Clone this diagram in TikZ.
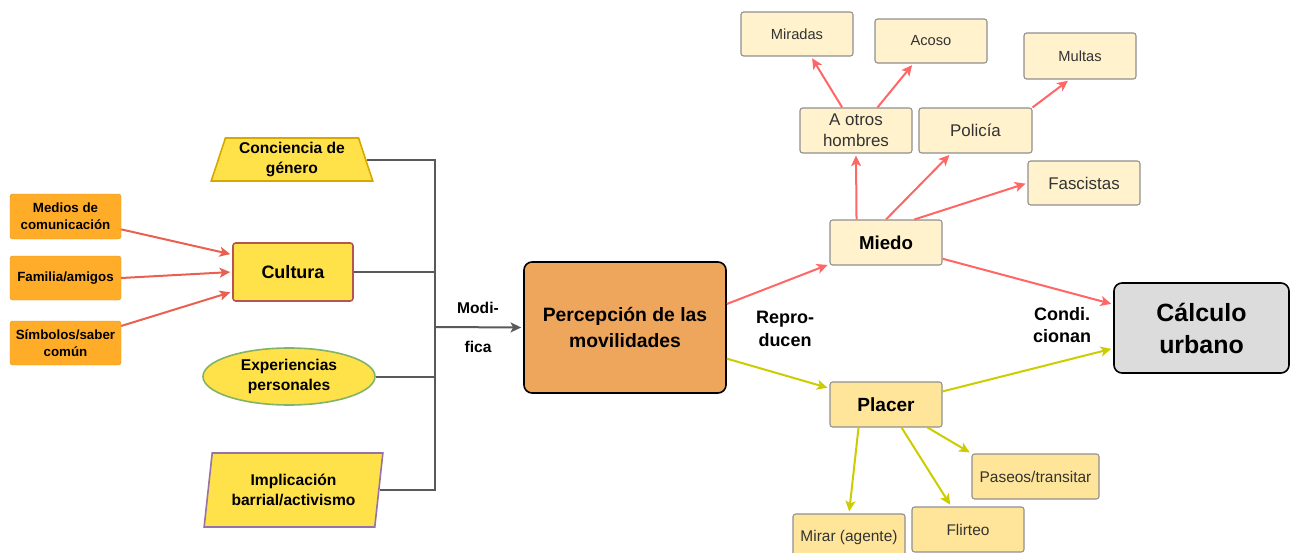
\documentclass[tikz,border=0pt]{standalone}
\usepackage{fontspec}
\setmainfont{Liberation Sans}
\usetikzlibrary{shapes.geometric,arrows.meta}
\definecolor{orng}{HTML}{FFAD29}
\definecolor{yel}{HTML}{FFE14A}
\definecolor{culb}{HTML}{B85450}
\definecolor{conb}{HTML}{D6A800}
\definecolor{expb}{HTML}{82B366}
\definecolor{impb}{HTML}{9673A6}
\definecolor{perf}{HTML}{EEA55C}
\definecolor{cream}{HTML}{FFF2CC}
\definecolor{plac}{HTML}{FFE599}
\definecolor{calf}{HTML}{DCDCDC}
\definecolor{creamb}{HTML}{8F8F8F}
\definecolor{redl}{HTML}{EA6050}
\definecolor{redr}{HTML}{FF6666}
\definecolor{ygl}{HTML}{CCCC00}
\definecolor{busc}{HTML}{595959}
\definecolor{txt}{HTML}{333333}
\begin{document}
\begin{tikzpicture}[x=0.75pt,y=-0.75pt,
  sz/.style 2 args={minimum width=#1*0.75pt,minimum height=#2*0.75pt,inner sep=0pt},
  obox/.style={rectangle,rounded corners=2pt,fill=orng,draw=orng!85!black,line width=0.3pt,align=center,font=\bfseries\fontsize{10}{12.5}\selectfont},
  ybox/.style={fill=yel,line width=1.2pt,align=center,font=\bfseries\fontsize{11.7}{15}\selectfont},
  cbox/.style={rectangle,rounded corners=2pt,fill=cream,draw=creamb,line width=0.8pt,align=center,text=txt},
  bus/.style={draw=busc,line width=1.5pt},
  arr/.style={line width=1.5pt,shorten >=1.5pt,-{Stealth[length=8pt,width=7.5pt,inset=2pt]}},
  lbl/.style={align=center,font=\bfseries\fontsize{13.5}{17}\selectfont}
]
\useasboundingbox (0,0) rectangle (1290,553);
\clip (0,0) rectangle (1290,553);

% left inputs
\node[obox,sz={111}{45}] (med) at (65.5,216.5) {Medios de\\comunicación};
\node[obox,sz={111}{44}] (fam) at (65.5,278) {Familia/amigos};
\node[obox,sz={111}{44}] (sim) at (65.5,343) {Símbolos/saber\\común};

% yellow nodes
\node[ybox,draw=conb,trapezium,trapezium left angle=72,trapezium right angle=72,trapezium stretches=true,sz={163}{43}] (con) at (292,159.5) {Conciencia de\\género};
\node[ybox,draw=culb,rectangle,rounded corners=2pt,sz={120}{58},font=\bfseries\fontsize{13.5}{16}\selectfont] (cul) at (293,272) {Cultura};
\node[ybox,draw=expb,ellipse,sz={172}{57}] (exp) at (289,376.5) {Experiencias\\personales};
\node[ybox,draw=impb,trapezium,trapezium left angle=79,trapezium right angle=101,trapezium stretches=true,sz={179}{74}] (imp) at (293.5,490) {Implicación\\barrial/activismo};

% bus
\coordinate (bm) at (435,327);
\draw[bus] (con.east) -| (bm);
\draw[bus] (cul.east) -| (bm);
\draw[bus] (exp.east) -| (bm);
\draw[bus] (imp.east) -| (bm);

% percepcion
\node[rectangle,rounded corners=6pt,fill=perf,draw=black,line width=1.2pt,sz={202}{131},align=center,font=\bfseries\fontsize{14.5}{19}\selectfont] (per) at (625,327.5) {Percepción de las\\movilidades};
\draw[arr,draw=busc,fill=busc] (bm) -- (per.west);
\node[lbl,font=\bfseries\fontsize{11.7}{14}\selectfont] (mod1) at (478,308) {Modi-};
\node[lbl,font=\bfseries\fontsize{11.7}{14}\selectfont] (mod2) at (478,347) {fica};

\draw[arr,draw=redl,fill=redl] (med.-13.7) -- (cul.164.9);
\draw[arr,draw=redl,fill=redl] (fam.east) -- (cul.west);
\draw[arr,draw=redl,fill=redl] (sim.17) -- (cul.198.4);

% miedo / placer
\node[cbox,sz={112}{45},font=\bfseries\fontsize{14}{17}\selectfont,text=black] (mie) at (886,242.5) {Miedo};
\node[cbox,fill=plac,sz={112}{45},font=\bfseries\fontsize{14.3}{17}\selectfont,text=black] (pla) at (886,404.5) {Placer};
\node[rectangle,rounded corners=6pt,fill=calf,draw=black,line width=1.2pt,sz={175}{90},align=center,font=\bfseries\fontsize{18.7}{24}\selectfont] (cal) at (1201.5,328) {Cálculo\\urbano};

\node[lbl] (rep) at (785,329) {Repro-\\ducen};
\node[lbl] (cond) at (1062,325) {Condi.\\cionan};

\draw[arr,draw=redr,fill=redr] (per.13.6) -- (mie.201.2);
\draw[arr,draw=ygl,fill=ygl] (per.-17.9) -- (pla.164.1);
\draw[arr,draw=redr,fill=redr] (mie.-16.4) -- (cal.165.6);
\draw[arr,draw=ygl,fill=ygl] (pla.13.5) -- (cal.193.8);

% miedo children
\node[cbox,sz={112}{45},font=\fontsize{12.7}{16}\selectfont] (aoh) at (856,130.5) {A otros\\hombres};
\node[cbox,sz={113}{45},font=\fontsize{12.7}{16}\selectfont] (pol) at (975.5,130.5) {Policía};
\node[cbox,sz={112}{44},font=\fontsize{12.7}{16}\selectfont] (fas) at (1084,183) {Fascistas};
\node[cbox,sz={112}{44},font=\fontsize{11}{14}\selectfont] (mir) at (797,34) {Miradas};
\node[cbox,sz={112}{44},font=\fontsize{11}{14}\selectfont] (aco) at (931,41) {Acoso};
\node[cbox,sz={112}{46},font=\fontsize{11}{14}\selectfont] (mul) at (1080,56) {Multas};

\draw[arr,draw=redr,fill=redr] (mie.142.2) -- (aoh.south);
\draw[arr,draw=redr,fill=redr] (mie.north) -- (pol.223.8);
\draw[arr,draw=redr,fill=redr] (mie.39) -- (fas.west);
\draw[arr,draw=redr,fill=redr] (aoh.121.9) -- (mir.-58);
\draw[arr,draw=redr,fill=redr] (aoh.47) -- (aco.232.8);
\draw[arr,draw=redr,fill=redr] (pol.north east) -- (mul.246);

% placer children
\node[cbox,fill=plac,sz={127}{45},font=\fontsize{11.6}{14}\selectfont] (pas) at (1035.5,476.5) {Paseos/transitar};
\node[cbox,fill=plac,sz={112}{45},font=\fontsize{11.6}{14}\selectfont] (fli) at (968,529.5) {Flirteo};
\node[cbox,fill=plac,sz={112}{46},font=\fontsize{11.6}{14}\selectfont] (mra) at (849,537) {Mirar (agente)};

\draw[arr,draw=ygl,fill=ygl] (pla.220) -- (mra.north);
\draw[arr,draw=ygl,fill=ygl] (pla.304.3) -- (fli.126.3);
\draw[arr,draw=ygl,fill=ygl] (pla.-29.2) -- (pas.north west);
\end{tikzpicture}
\end{document}
